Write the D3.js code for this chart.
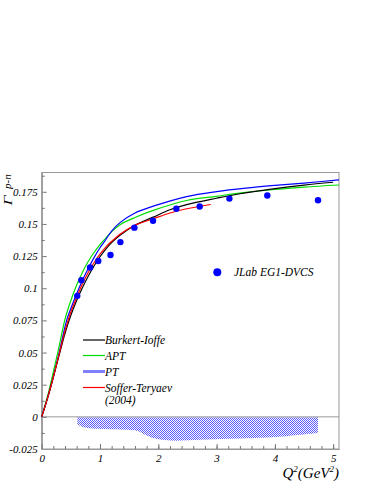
<!DOCTYPE html>
<html><head><meta charset="utf-8">
<script src="https://cdn.jsdelivr.net/npm/d3@7"></script>
<style>body{margin:0;background:#fff}svg{display:block}text{font-family:"Liberation Serif","DejaVu Serif",serif;font-style:italic}</style>
</head><body><svg id="c" width="374" height="484"></svg>
<script>
// ---- data ----
const dataQ2 = [0.61,0.68,0.83,0.97,1.18,1.35,1.59,1.91,2.31,2.71,3.22,3.87,4.74];
const dataGamma = [0.0941,0.1063,0.1161,0.1212,0.1258,0.1359,0.1471,0.1525,0.1618,0.1636,0.1697,0.1721,0.1684];
const sysLow = [-0.0055,-0.0075,-0.0088,-0.0093,-0.0096,-0.0098,-0.0105,-0.0165,-0.0185,-0.0178,-0.017,-0.016,-0.0125];

const biQ2 = [0,0.1,0.2,0.3,0.4,0.5,0.6,0.7,0.8,0.9,1.0,1.1,1.2,1.343,1.6,1.913,2.2,2.486,3.0,3.4,4.0,4.5,5.0];
const biG  = [0,0.0145,0.031,0.048,0.065,0.079,0.0905,0.1005,0.1095,0.1175,0.1245,0.1305,0.1355,0.1412,0.149,0.1553,0.161,0.165,0.170,0.1735,0.1775,0.1802,0.1824];
const aptQ2 = [0,0.1,0.2,0.3,0.4,0.5,0.6,0.7,0.8,0.9,1.0,1.1,1.2,1.343,1.6,1.913,2.486,3.0,3.5,4.0,4.5,5.1];
const aptG  = [0,0.016,0.035,0.055,0.076,0.0905,0.1025,0.1125,0.121,0.128,0.134,0.139,0.144,0.1494,0.155,0.1605,0.1682,0.1715,0.1745,0.1768,0.1787,0.1803];
const ptQ2 = [0,0.1,0.2,0.3,0.43,0.5,0.6,0.7,0.8,0.9,1.0,1.085,1.2,1.343,1.6,1.913,2.486,3.0,3.5,4.0,4.5,5.1];
const ptG  = [0,0.0145,0.031,0.050,0.0754,0.0843,0.0958,0.1062,0.1155,0.124,0.1315,0.1368,0.1445,0.151,0.1585,0.1638,0.1713,0.1752,0.1779,0.180,0.1818,0.1842];
const stQ2 = [0,0.1,0.2,0.3,0.4,0.5,0.6,0.7,0.8,0.9,1.0,1.1,1.2,1.343,1.6,1.913,2.2,2.486,2.9];
const stG  = [0,0.0145,0.031,0.049,0.067,0.0815,0.093,0.1035,0.1125,0.120,0.1265,0.132,0.1365,0.142,0.149,0.154,0.1585,0.1618,0.1651];

const yTicks = [-0.025,0,0.025,0.05,0.075,0.1,0.125,0.15,0.175];
const yTickLabels = ["-0.025","0","0.025","0.05","0.075","0.1","0.125","0.15","0.175"];
const xTicks = [0,1,2,3,4,5];
const legendNames = ["Burkert-Ioffe","APT","PT","Soffer-Teryaev"];

// ---- drawing ----
const svg = d3.select("#c");
const L=41.7,R=339,T=172.5,B=449;
const x = d3.scaleLinear().domain([0,5.1]).range([L,R]);
const y = d3.scaleLinear().domain([-0.025,0.19]).range([B,T]);
const grey="#999";

// hatch pattern
const defs = svg.append("defs");
const pat = defs.append("pattern").attr("id","hatch").attr("width",2).attr("height",2).attr("patternUnits","userSpaceOnUse");
pat.append("rect").attr("x",0).attr("y",0).attr("width",1).attr("height",1).attr("fill","#5a5aff");
pat.append("rect").attr("x",1).attr("y",1).attr("width",1).attr("height",1).attr("fill","#5a5aff");

// systematic band
const band = dataQ2.map((q,i)=>({q,lo:sysLow[i]}));
svg.append("path").datum(band)
  .attr("d", d3.area().x(d=>x(d.q)).y0(y(-0.0004)).y1(d=>y(d.lo)).curve(d3.curveMonotoneX))
  .attr("fill","url(#hatch)");

// zero line
svg.append("line").attr("x1",L).attr("x2",R).attr("y1",y(0)).attr("y2",y(0)).attr("stroke",grey);

// frame
svg.append("rect").attr("x",L).attr("y",T).attr("width",R-L).attr("height",B-T).attr("fill","none").attr("stroke",grey);

// axes
const yAx = svg.append("g").attr("transform",`translate(${L},0)`)
  .call(d3.axisLeft(y).tickValues(yTicks).tickFormat((d,i)=>yTickLabels[i]).tickSizeInner(-5).tickSizeOuter(0).tickPadding(4));
const yMin = svg.append("g").attr("transform",`translate(${L},0)`)
  .call(d3.axisLeft(y).tickValues(d3.range(-0.0125,0.19,0.025)).tickFormat("").tickSizeInner(-3).tickSizeOuter(0));
const xAx = svg.append("g").attr("transform",`translate(0,${B})`)
  .call(d3.axisBottom(x).tickValues(xTicks).tickFormat(d3.format("d")).tickSizeInner(-5).tickSizeOuter(0).tickPadding(5));
const xMin = svg.append("g").attr("transform",`translate(0,${B})`)
  .call(d3.axisBottom(x).tickValues(d3.range(0.2,5.1,0.2)).tickFormat("").tickSizeInner(-3).tickSizeOuter(0));
[yAx,yMin,xAx,xMin].forEach(g=>{g.attr("font-family",null);g.select(".domain").attr("stroke",grey);g.selectAll("line").attr("stroke","#777");
  g.selectAll("text").attr("font-size",11).attr("fill","#000");});

// curves
const line = d3.line().x(d=>x(d[0])).y(d=>y(d[1])).curve(d3.curveCatmullRom.alpha(0.5));
const curves = [
  {q:aptQ2,g:aptG,c:"#00dd00",w:1.2},
  {q:ptQ2,g:ptG,c:"#0000ff",w:1.2},
  {q:biQ2,g:biG,c:"#000",w:1.2},
  {q:stQ2,g:stG,c:"#ff0000",w:1.2}
];
curves.forEach(cv=>{
  svg.append("path").datum(cv.q.map((q,i)=>[q,cv.g[i]])).attr("d",line)
    .attr("fill","none").attr("stroke",cv.c).attr("stroke-width",cv.w);
});

// data points
svg.selectAll("circle.pt").data(dataQ2).enter().append("circle").attr("class","pt")
  .attr("cx",d=>x(d)).attr("cy",(d,i)=>y(dataGamma[i])).attr("r",3.2).attr("fill","#0000ff");

// legend
const legY=[340,355.5,371.5,387.5];
const legC=["#000","#00dd00","#8080ff","#ff0000"];
const legW=[1.2,1.2,3,1.2];
legendNames.forEach((n,i)=>{
  svg.append("line").attr("x1",83).attr("x2",105).attr("y1",legY[i]).attr("y2",legY[i]).attr("stroke",legC[i]).attr("stroke-width",legW[i]);
  svg.append("text").attr("x",105).attr("y",legY[i]+4).attr("font-size",11.5).text(n);
});
svg.append("text").attr("x",105).attr("y",404).attr("font-size",11.5).text("(2004)");

svg.append("circle").attr("cx",217.3).attr("cy",272.3).attr("r",4).attr("fill","#0000ff");
svg.append("text").attr("x",234).attr("y",276).attr("font-size",11.5).text("JLab EG1-DVCS");

// axis titles
const xt = svg.append("text").attr("x",339).attr("y",478).attr("text-anchor","end").attr("font-size",15);
xt.append("tspan").text("Q");
xt.append("tspan").attr("font-size",9).attr("dy",-6).text("2");
xt.append("tspan").attr("dy",6).text("(GeV");
xt.append("tspan").attr("font-size",9).attr("dy",-6).text("2");
xt.append("tspan").attr("dy",6).text(")");

svg.append("text").attr("transform","translate(11.8,205.5) rotate(-90) scale(1.35,1)")
  .attr("font-size",13).attr("font-style","normal").text("Γ");
svg.append("text").attr("transform","translate(10.5,189) rotate(-90)")
  .attr("font-size",11).text("p-n");
</script></body></html>
